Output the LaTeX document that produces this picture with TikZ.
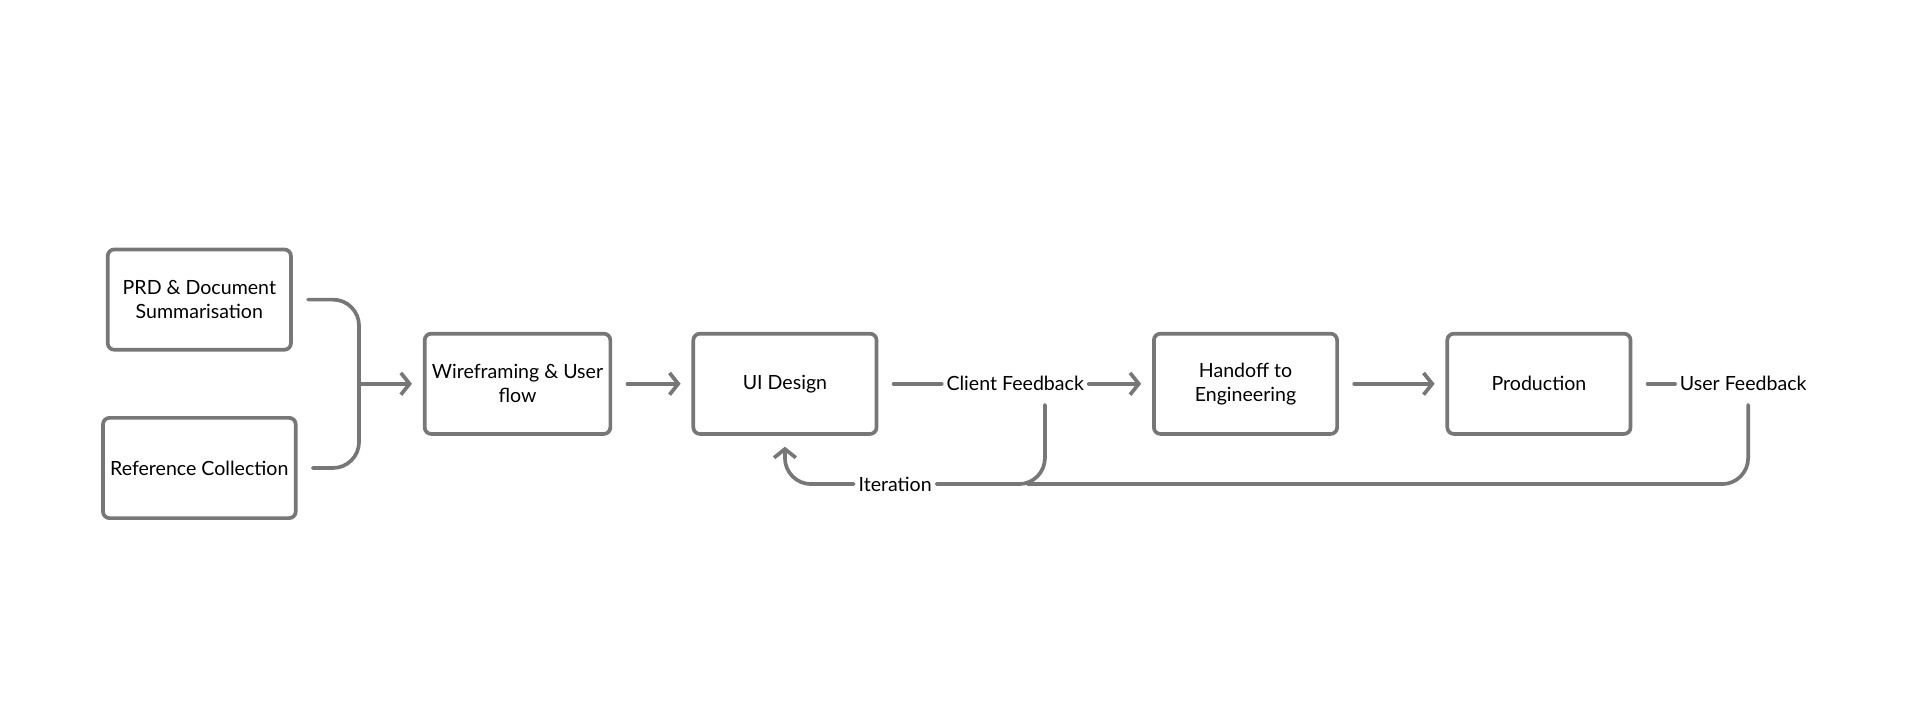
\documentclass[tikz,border=0pt]{standalone}
\usepackage{fontspec}
\setmainfont{Lato}
\usetikzlibrary{arrows.meta,positioning}
\definecolor{linegray}{HTML}{777777}
\tikzset{
 stage/.style={draw=linegray,line width=1.7pt,rounded corners=3pt,minimum width=2.96cm,minimum height=1.62cm,align=center,font=\small},
 lbl/.style={inner sep=2pt,font=\small},
 link/.style={draw=linegray,line width=1.7pt,line cap=round,rounded corners=12pt},
 arr/.style={link,-{Straight Barb[length=4pt,width=10pt,line width=1.7pt]}}
}
\begin{document}
\begin{tikzpicture}[x=0.02cm,y=-0.02cm]
 \useasboundingbox (0,0) rectangle (1550,584);
 \node[stage] (prd) at (161,242) {PRD \& Document\\Summarisation}; %入力1
 \node[stage] (ref) at (161,378) {Reference Collection}; %入力2
 \node[stage] (wire) at (418,310) {Wireframing \& User\\flow};
 \node[stage] (ui) at (634,310) {UI Design};
 \node[stage] (hand) at (1006,310) {Handoff to\\Engineering};
 \node[stage] (prod) at (1243,310) {Production};
 \node[lbl] (client) at (820,310) {Client Feedback};
 \node[lbl] (user) at (1408,310) {User Feedback};
 \node[lbl] (iter) at (723,391) {Iteration};
 \coordinate (join) at (290,310); %合流点
 \coordinate (cdrop) at (844,327); %Client Feedback下
 \coordinate (udrop) at (1412,327); %User Feedback下
 \coordinate (meet) at (830,391);

 \draw[link] ([xshift=7pt]prd.east) -| (join);
 \draw[link] ([xshift=7pt]ref.east) -| (join);
 \draw[arr,rounded corners=0pt] (join) -- ([xshift=-5pt]wire.west);
 \draw[arr] ([xshift=7pt]wire.east) -- ([xshift=-5pt]ui.west);
 \draw[link] ([xshift=7pt]ui.east) -- (client.west);
 \draw[arr] (client.east) -- ([xshift=-5pt]hand.west);
 \draw[arr] ([xshift=7pt]hand.east) -- ([xshift=-5pt]prod.west);
 \draw[link] ([xshift=7pt]prod.east) -- (user.west);

 \draw[link] (cdrop) |- (iter.east);
 \draw[link] (udrop) |- (meet);
 \draw[arr] (iter.west) -| ([yshift=-5pt]ui.south);
\end{tikzpicture}
\end{document}
